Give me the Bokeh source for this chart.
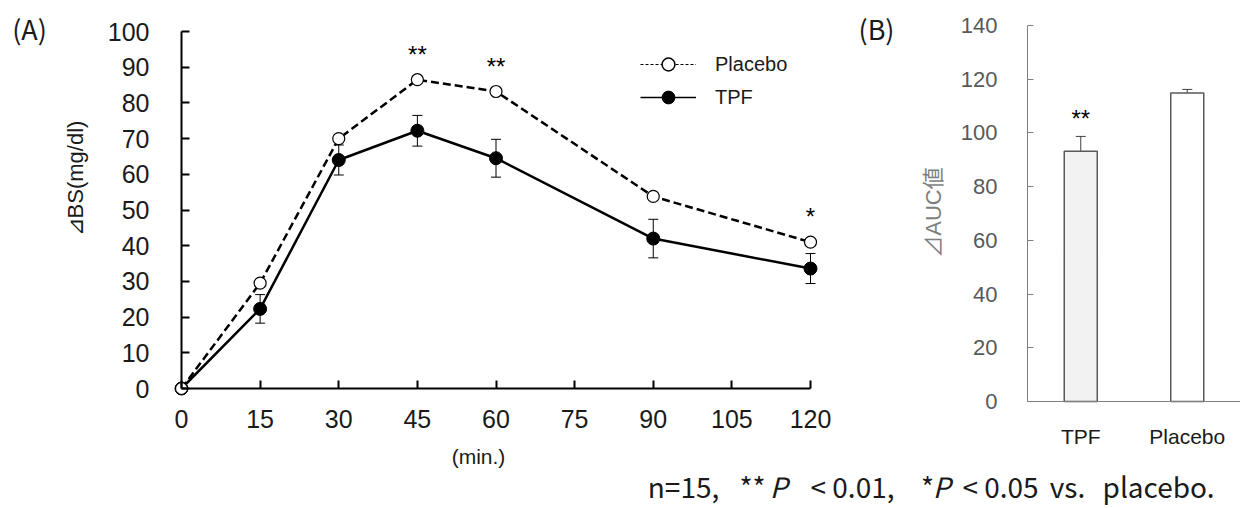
import math
from bokeh.plotting import figure
from bokeh.models import (ColumnDataSource, Whisker, TeeHead, Label, Legend, LegendItem,
                          FixedTicker, Range1d, LinearAxis)
from bokeh.core.properties import value
from bokeh.embed import file_html
from bokeh.resources import INLINE

# ---------------- data: panel A (time course) ----------------
time_min = [0, 15, 30, 45, 60, 90, 120]
placebo_mean = [0, 29.5, 70.0, 86.5, 83.2, 53.8, 41.0]
placebo_se = [0, 1.0, 1.0, 1.0, 1.0, 1.0, 1.0]
tpf_mean = [0, 22.3, 64.0, 72.2, 64.5, 42.0, 33.6]
tpf_se = [0, 4.0, 4.2, 4.3, 5.3, 5.4, 4.2]
sig_marks = ["", "", "", "**", "**", "", "*"]
x_ticks = [0, 15, 30, 45, 60, 75, 90, 105, 120]
y_ticks_a = [0, 10, 20, 30, 40, 50, 60, 70, 80, 90, 100]

# ---------------- data: panel B (AUC) ----------------
groups = ["TPF", "Placebo"]
auc_mean = [93.2, 114.9]
auc_se = [5.5, 1.3]
auc_sig = ["**", ""]
y_ticks_b = [0, 20, 40, 60, 80, 100, 120, 140]

footer_parts = ["n=15,", "**", "P", "< 0.01,", "*", "P", "< 0.05", "vs.", "placebo."]
footer_styles = ["normal", "normal", "italic", "normal", "normal", "italic",
                 "normal", "normal", "normal"]

SANS = "Liberation Sans"
JP = "Noto Sans CJK JP"
NAN = float("nan")

# ================= one canvas, two panels =================
W, H = 1240, 507
# panel A scale: x 0..120 -> px 181..810 ; y 0..100 -> px 388..31
PXX = (810 - 181) / 120.0
PXY = (388 - 31) / 100.0
# panel B scale: y 0..140 -> px 401..25 ; one category slot = 106.5 px starting at px 1027
PYB = (401 - 25) / 140.0
PXB = 106.5


def ax_(px):   # page px -> panel A x data (for text placement)
    return (px - 181) / PXX


def ay_(py):
    return (388 - py) / PXY


p = figure(width=W, height=H, frame_align=False,
           min_border_left=0, min_border_right=0, min_border_top=0, min_border_bottom=0,
           x_range=Range1d(-181 / PXX, (W - 181) / PXX),
           y_range=Range1d(-(H - 388) / PXY, 100 + 31 / PXY),
           output_backend="svg", toolbar_location=None)
p.extra_x_ranges = {"bx": Range1d(-1027 / PXB, (W - 1027) / PXB)}
p.extra_y_ranges = {"by": Range1d(-(H - 401) / PYB, 140 + 25 / PYB)}
p.grid.visible = False
p.outline_line_color = None

# ---- panel A axes ----
for axm in (p.xaxis[0], p.yaxis[0]):
    axm.fixed_location = 0
    axm.axis_line_width = 2
    axm.axis_line_color = "black"
    axm.major_tick_line_width = 2
    axm.major_tick_line_color = "black"
    axm.major_tick_in = 8
    axm.major_tick_out = 0
    axm.minor_tick_line_color = None
    axm.major_label_text_font = SANS
    axm.major_label_text_font_size = "25px"
    axm.major_label_text_color = "#1a1a1a"
p.xaxis[0].ticker = FixedTicker(ticks=x_ticks)
p.xaxis[0].bounds = (0, 120)
p.xaxis[0].major_label_standoff = 21
p.yaxis[0].ticker = FixedTicker(ticks=y_ticks_a)
p.yaxis[0].bounds = (0, 100)
p.yaxis[0].major_label_standoff = 32

srcA = ColumnDataSource(dict(
    t=time_min, pm=placebo_mean, tm=tpf_mean,
    pu=[m + s for m, s in zip(placebo_mean, placebo_se)],
    pl=[m - s for m, s in zip(placebo_mean, placebo_se)],
    tu=[m + s for m, s in zip(tpf_mean, tpf_se)],
    tl=[m - s for m, s in zip(tpf_mean, tpf_se)],
    sy=[m + 7.1 for m in placebo_mean],
    sig=sig_marks,
))

p.line('t', 'tm', source=srcA, line_color="black", line_width=2.5)
p.line('t', 'pm', source=srcA, line_color="black", line_width=2.5, line_dash="8 4")
for up, lo in (("tu", "tl"), ("pu", "pl")):
    p.add_layout(Whisker(base='t', upper=up, lower=lo, source=srcA, dimension="height",
                         line_color="black", line_width=1,
                         upper_head=TeeHead(size=10, line_width=1, line_color="black"),
                         lower_head=TeeHead(size=10, line_width=1, line_color="black")))
p.scatter('t', 'tm', source=srcA, size=13, fill_color="black", line_color="black")
p.scatter('t', 'pm', source=srcA, size=12, fill_color="white", line_color="black", line_width=1.2)
p.text('t', 'sy', text='sig', source=srcA, text_align="center", text_baseline="middle",
       text_font=value(SANS), text_font_size="24px", text_color="black")

# legend (renderers with a single NaN point: invisible in the plot, drawn in the legend)
lp_line = p.line([NAN], [NAN], line_color="black", line_width=1, line_dash="3 2")
lp_dot = p.scatter([NAN], [NAN], fill_color="white", line_color="black", line_width=1.5)
lt_line = p.line([NAN], [NAN], line_color="black", line_width=1.3)
lt_dot = p.scatter([NAN], [NAN], fill_color="black", line_color="black")
legend = Legend(items=[LegendItem(label="Placebo", renderers=[lp_line, lp_dot]),
                       LegendItem(label="TPF", renderers=[lt_line, lt_dot])],
                location=(640, H - 113), glyph_width=56, glyph_height=32, label_height=32,
                spacing=1, padding=0, margin=0, label_standoff=19,
                border_line_color=None, background_fill_alpha=0,
                label_text_font=SANS, label_text_font_size="20px", label_text_color="#1a1a1a")
p.add_layout(legend)

p.add_layout(Label(x=ax_(29), y=ay_(28), text="(A)", text_font=JP, text_font_size="27px",
                   text_align="center", text_baseline="middle", text_color="#1a1a1a"))
p.add_layout(Label(x=ax_(75), y=ay_(178), text="⊿BS(mg/dl)", angle=math.pi / 2,
                   text_font=SANS, text_font_size="22px", text_align="center",
                   text_baseline="middle", text_color="#1a1a1a"))
p.add_layout(Label(x=ax_(478), y=ay_(456), text="(min.)", text_font=SANS,
                   text_font_size="21px", text_align="center", text_baseline="middle",
                   text_color="#1a1a1a"))

# ---- panel B ----
bpos = [i + 0.5 for i in range(len(groups))]
srcB = ColumnDataSource(dict(
    x=bpos, m=auc_mean,
    u=[m + s for m, s in zip(auc_mean, auc_se)],
    l=[m - s for m, s in zip(auc_mean, auc_se)],
    sy=[m + s + 6.6 for m, s in zip(auc_mean, auc_se)],
    sig=auc_sig,
    fill=["#f2f2f2", "white"],
))
p.vbar(x='x', top='m', width=0.31, source=srcB, fill_color='fill',
       line_color="#595959", line_width=1.5, x_range_name="bx", y_range_name="by")
p.add_layout(Whisker(base='x', upper='u', lower='l', source=srcB, dimension="height",
                     line_color="#404040", line_width=1,
                     x_range_name="bx", y_range_name="by",
                     upper_head=TeeHead(size=10, line_width=1, line_color="#404040"),
                     lower_head=TeeHead(size=10, line_width=1, line_color="#404040")))
p.text('x', 'sy', text='sig', source=srcB, text_align="center", text_baseline="middle",
       text_font=value(SANS), text_font_size="24px", text_color="black",
       x_range_name="bx", y_range_name="by")

yb = LinearAxis(x_range_name="bx", y_range_name="by", fixed_location=0, bounds=(0, 140),
                ticker=FixedTicker(ticks=y_ticks_b),
                axis_line_color="#7f7f7f", axis_line_width=1,
                major_tick_line_color="#7f7f7f", major_tick_in=6, major_tick_out=0,
                minor_tick_line_color=None,
                major_label_text_font=SANS, major_label_text_font_size="22px",
                major_label_text_color="#595959", major_label_standoff=30)
p.add_layout(yb, "left")
xbx = LinearAxis(x_range_name="bx", y_range_name="by", fixed_location=0,
                 bounds=(0, (W - 1027) / PXB),
                 ticker=FixedTicker(ticks=bpos),
                 major_label_overrides={bp: g for bp, g in zip(bpos, groups)},
                 axis_line_color="#7f7f7f", axis_line_width=1,
                 major_tick_line_color=None, minor_tick_line_color=None,
                 major_label_text_font=SANS, major_label_text_font_size="21px",
                 major_label_text_color="#1a1a1a", major_label_standoff=17)
p.add_layout(xbx, "below")

p.add_layout(Label(x=ax_(876), y=ay_(28), text="(B)", text_font=JP, text_font_size="27px",
                   text_align="center", text_baseline="middle", text_color="#1a1a1a"))
p.add_layout(Label(x=ax_(933), y=ay_(212), text="⊿AUC値", angle=math.pi / 2,
                   text_font="Liberation Sans, 'Noto Sans CJK JP'", text_font_size="22px",
                   text_align="center", text_baseline="middle", text_color="#7f7f7f"))

# ---- footer note (each piece centred where it sits in the original) ----
foot_cx = [683, 752, 778, 852, 927, 941, 1000, 1067, 1158]
srcF = ColumnDataSource(dict(
    x=[ax_(v) for v in foot_cx], y=[ay_(485)] * len(footer_parts),
    text=footer_parts, style=footer_styles))
p.text('x', 'y', text='text', source=srcF, text_font=value(JP), text_font_size="28px",
       text_font_style='style', text_align="center", text_baseline="middle",
       text_color="#1a1a1a")

open("out.html", "w").write(file_html(p, INLINE))
